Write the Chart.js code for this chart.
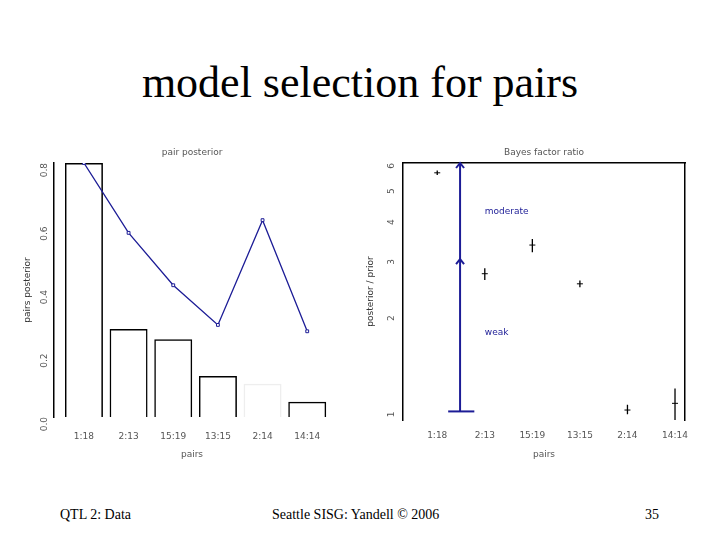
<!DOCTYPE html>
<html>
<head>
<meta charset="utf-8">
<script src="https://cdn.jsdelivr.net/npm/chart.js@4"></script>
<style>
body { margin:0; width:720px; height:540px; background:#fff; position:relative; overflow:hidden; font-family:"Liberation Serif", "Times New Roman", serif; }
#title { position:absolute; left:0; width:720px; top:57px; text-align:center; font-size:44px; }
.foot { position:absolute; top:507px; font-size:14px; }
#c1 { position:absolute; left:0; top:140px; }
#c2 { position:absolute; left:355px; top:140px; }
</style>
</head>
<body>
<div id="title">model selection for pairs</div>
<div class="foot" style="left:60px">QTL 2: Data</div>
<div class="foot" style="left:272px">Seattle SISG: Yandell © 2006</div>
<div class="foot" style="left:645px">35</div>
<canvas id="c1" width="345" height="320"></canvas>
<canvas id="c2" width="345" height="320"></canvas>
<script>
var pairs = ['1:18', '2:13', '15:19', '13:15', '2:14', '14:14'];
var pairPosterior = [0.80, 0.277, 0.245, 0.129, 0.105, 0.048];
var postOverPrior = [0.80, 0.58, 0.415, 0.29, 0.62, 0.27];
var leftTicks = [0, 0.2, 0.4, 0.6, 0.8];

// Bayes factor panel
var bfMid = [5.59, 2.70, 3.32, 2.51, 1.01, 1.06];
var bfLow = [5.50, 2.58, 3.15, 2.45, 0.98, 0.91];
var bfHigh = [5.68, 2.81, 3.47, 2.57, 1.05, 1.18];
var rightTicks = [1, 2, 3, 4, 5, 6];
var arrowX = 1.48;
var arrowY = [1, 3, 6];
var zoneLabels = [{ text: 'moderate', x: 2.0, y: 4.22 }, { text: 'weak', x: 2.0, y: 1.76 }];

var small = { family: 'DejaVu Sans', size: 9 };
var blue = '#1c1c96';
var grey = '#555';

// panel titles drawn centred over the plot area, as R does
function panelTitle(text) {
    return {
        id: 'panelTitle',
        afterDraw: function (chart) {
            var ctx = chart.ctx, a = chart.chartArea;
            ctx.save();
            ctx.fillStyle = grey;
            ctx.font = '9px "DejaVu Sans"';
            ctx.textAlign = 'center';
            ctx.textBaseline = 'middle';
            ctx.fillText(text, (a.left + a.right) / 2, 13);
            ctx.restore();
        }
    };
}

var chart1 = new Chart(document.getElementById('c1'), {
    data: {
        datasets: [{
            type: 'line',
            data: postOverPrior.map(function (v, i) { return { x: i + 1, y: v }; }),
            borderColor: blue,
            borderWidth: 1.3,
            pointStyle: 'rect',
            pointRadius: 2,
            pointBorderColor: blue,
            pointBackgroundColor: '#fff',
            pointBorderWidth: 1
        }, {
            type: 'bar',
            data: pairPosterior.map(function (v, i) { return { x: i + 1, y: v }; }),
            backgroundColor: 'rgba(0,0,0,0)',
            borderColor: ['#000', '#000', '#000', '#000', '#eeeeee', '#000'],
            borderWidth: { top: 1.5, left: 1.5, right: 1.5, bottom: 0 },
            borderSkipped: 'bottom',
            barPercentage: 0.85,
            categoryPercentage: 1
        }]
    },
    options: {
        responsive: false,
        animation: false,
        layout: { padding: { left: 22, right: 15, top: 23, bottom: 0 } },
        plugins: { legend: { display: false }, tooltip: { enabled: false } },
        scales: {
            x: {
                type: 'linear', min: 0.33, max: 6.51, offset: false,
                grid: { display: false, drawTicks: false },
                border: { display: false },
                afterBuildTicks: function (s) { s.ticks = pairs.map(function (p, i) { return { value: i + 1 }; }); },
                ticks: { color: grey, font: small, padding: 14, callback: function (v) { return pairs[v - 1]; } },
                title: { display: true, text: 'pairs', color: grey, font: small, padding: 0 },
                afterFit: function (s) { s.height = 43; }
            },
            y: {
                min: 0, max: 0.8,
                grid: { display: false, drawOnChartArea: false, tickLength: 5, color: '#000' },
                border: { color: '#000', width: 1.5 },
                afterBuildTicks: function (s) { s.ticks = leftTicks.map(function (v) { return { value: v }; }); },
                ticks: { color: grey, font: small, minRotation: 90, maxRotation: 90, padding: 4,
                    callback: function (v) { return v.toFixed(1); } },
                title: { display: true, text: 'pairs posterior', color: '#333', font: small, padding: 0 },
                afterFit: function (s) { s.width = 32; }
            }
        }
    },
    plugins: [panelTitle('pair posterior')]
});

// error bar segments built from the arrays above
var barPts = [];
pairs.forEach(function (p, i) {
    barPts.push({ x: i + 1, y: bfLow[i] }, { x: i + 1, y: bfHigh[i] }, { x: i + 1, y: null });
});
var midPts = pairs.map(function (p, i) { return { x: i + 1, y: bfMid[i] }; });

var markPlugin = {
    id: 'marks',
    afterDatasetsDraw: function (chart) {
        var ctx = chart.ctx, xs = chart.scales.x, ys = chart.scales.y;
        ctx.save();
        ctx.strokeStyle = blue;
        ctx.lineWidth = 2;
        var ax = xs.getPixelForValue(arrowX);
        arrowY.slice(1).forEach(function (v) {
            var py = ys.getPixelForValue(v);
            ctx.beginPath();
            ctx.moveTo(ax - 4, py + 5);
            ctx.lineTo(ax, py);
            ctx.lineTo(ax + 4, py + 5);
            ctx.stroke();
        });
        ctx.fillStyle = blue;
        ctx.font = '9px "DejaVu Sans"';
        ctx.textBaseline = 'middle';
        zoneLabels.forEach(function (z) {
            ctx.fillText(z.text, xs.getPixelForValue(z.x), ys.getPixelForValue(z.y));
        });
        ctx.restore();
    }
};

var chart2 = new Chart(document.getElementById('c2'), {
    type: 'scatter',
    data: {
        datasets: [{
            data: [{ x: arrowX, y: arrowY[0] }, { x: arrowX, y: arrowY[2] }],
            showLine: true, borderColor: blue, borderWidth: 2, pointRadius: 0
        }, {
            data: [{ x: arrowX - 0.25, y: arrowY[0] }, { x: arrowX + 0.3, y: arrowY[0] }],
            showLine: true, borderColor: blue, borderWidth: 2, pointRadius: 0
        }, {
            data: barPts,
            showLine: true, spanGaps: false, borderColor: '#000', borderWidth: 1.3, pointRadius: 0
        }, {
            data: midPts,
            pointStyle: 'line', pointRadius: 3, borderColor: '#000', pointBorderColor: '#000', pointBorderWidth: 1
        }]
    },
    options: {
        responsive: false,
        animation: false,
        layout: { padding: { left: 10, right: 15, top: 23, bottom: 0 } },
        plugins: { legend: { display: false }, tooltip: { enabled: false } },
        scales: {
            x: {
                type: 'linear', min: 0.28, max: 6.21,
                grid: { display: false, drawOnChartArea: false, tickLength: 6, color: '#bbb' },
                border: { display: false },
                afterBuildTicks: function (s) { s.ticks = pairs.map(function (p, i) { return { value: i + 1 }; }); },
                ticks: { color: grey, font: small, padding: 4, callback: function (v) { return pairs[v - 1]; } },
                title: { display: true, text: 'pairs', color: grey, font: small, padding: 0 },
                afterFit: function (s) { s.height = 40; }
            },
            x2: {
                type: 'linear', position: 'top', min: 0.28, max: 6.21,
                grid: { display: false }, ticks: { display: false },
                border: { color: '#000', width: 1.5 },
                afterFit: function (s) { s.height = 0; }
            },
            y: {
                type: 'logarithmic', min: 0.94, max: 6,
                grid: { display: false, drawOnChartArea: false, tickLength: 5, color: '#999' },
                border: { color: '#000', width: 1.5 },
                afterBuildTicks: function (s) { s.ticks = rightTicks.map(function (v) { return { value: v }; }); },
                ticks: { color: grey, font: small, minRotation: 90, maxRotation: 90, padding: 6,
                    callback: function (v) { return String(v); } },
                title: { display: true, text: 'posterior / prior', color: '#333', font: small, padding: 0 },
                afterFit: function (s) { s.width = 38; }
            },
            y2: {
                type: 'logarithmic', position: 'right', min: 0.94, max: 6,
                grid: { display: false }, ticks: { display: false },
                border: { color: '#000', width: 1.5 },
                afterFit: function (s) { s.width = 0; }
            }
        }
    },
    plugins: [markPlugin, panelTitle('Bayes factor ratio')]
});
</script>
</body>
</html>
